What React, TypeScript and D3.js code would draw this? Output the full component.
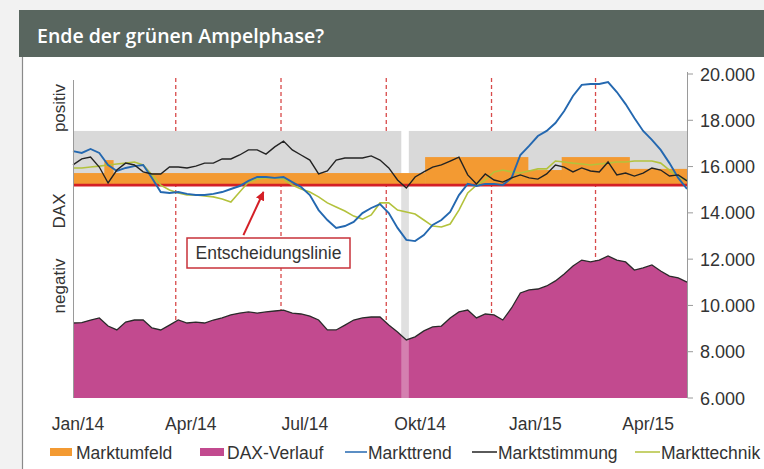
import React from "react";
import * as d3 from "d3";

const W = 764;
const H = 469;

const parse = d3.timeParse("%Y-%m-%d");
const startDate = parse("2013-12-28") as Date;
const endDate = parse("2015-05-02") as Date;
// weekly observations from the start date
const weekDate = (i: number) => new Date(2013, 11, 28 + 7 * i);

// DAX-Verlauf (index points, weekly)
const daxVerlauf = [
  9240, 9260, 9370, 9460, 9110, 8940, 9280, 9370, 9370, 9030,
  8940, 9150, 9370, 9240, 9280, 9240, 9370, 9460, 9590, 9670,
  9720, 9670, 9720, 9760, 9800, 9670, 9630, 9540, 9370, 8940,
  8940, 9150, 9370, 9460, 9500, 9500, 9150, 8850, 8510, 8640,
  8900, 9070, 9110, 9460, 9720, 9800, 9460, 9630, 9590, 9370,
  9890, 10540, 10670, 10710, 10840, 11060, 11360, 11700, 11960, 11880,
  11960, 12140, 11960, 11880, 11530, 11620, 11750, 11490, 11270, 11190,
  11010,
];

// Markttrend (weekly, plotted on the same scale)
const markttrend = [
  16670, 16590, 16760, 16590, 16070, 15810, 15940, 16020, 16070, 15510,
  14900, 14860, 14900, 14820, 14770, 14770, 14820, 14900, 15030, 15160,
  15380, 15550, 15550, 15510, 15550, 15330, 15120, 14770, 14120, 13690,
  13350, 13430, 13610, 13990, 14210, 14380, 13990, 13350, 12830, 12780,
  13040, 13480, 13690, 14040, 14770, 15250, 15160, 15250, 15250, 15200,
  15510, 16500, 16890, 17320, 17540, 17880, 18400, 19050, 19530, 19570,
  19570, 19650, 19220, 18700, 18100, 17540, 17150, 16720, 16150, 15510,
  15030,
];

// Marktstimmung (weekly)
const marktstimmung = [
  16070, 16330, 16410, 15980, 15290, 15850, 16150, 16070, 15770, 15680,
  15680, 15980, 15980, 15940, 16020, 16150, 16150, 16330, 16330, 16500,
  16720, 16720, 16540, 16850, 17100, 16720, 16500, 16280, 15680, 15810,
  16280, 16370, 16370, 16370, 16460, 16280, 15940, 15420, 15070, 15550,
  15770, 15980, 16070, 16240, 16410, 15640, 15250, 15680, 15420, 15330,
  15510, 15640, 15510, 15460, 15680, 16070, 15980, 15770, 15940, 15810,
  15770, 16200, 15640, 15720, 15590, 15720, 15940, 15850, 15590, 15640,
  15380,
];

// Markttechnik (weekly)
const markttechnik = [
  15940, 15940, 15980, 16020, 16070, 16110, 16150, 16200, 16070, 15640,
  15200, 14990, 14860, 14770, 14770, 14730, 14690, 14600, 14470, 14900,
  15330, 15460, 15510, 15510, 15460, 15200, 15030, 14900, 14690, 14430,
  14250, 14080, 13860, 13730, 13910, 14430, 14430, 14120, 14040, 13950,
  13690, 13430, 13390, 13520, 14120, 14860, 15200, 15420, 15770, 15850,
  15770, 15720, 15810, 15900, 15900, 16240, 16200, 16150, 16110, 16070,
  16110, 16150, 16200, 16200, 16240, 16240, 16240, 16150, 15850, 15550,
  15420,
];

// Marktumfeld: step levels starting at these dates
const marktumfeldStart = [
  "2013-12-28", "2014-01-22", "2014-01-29", "2014-10-05",
  "2014-12-26", "2015-01-22", "2015-03-17",
];
const marktumfeldLevel = [15720, 16280, 15720, 16410, 15850, 16410, 15900];

const entscheidungslinie = 15200;
const positivZoneTop = 17540;
// periods with positive zone (grey band) and the negative signal in between
const positivZones = [
  ["2013-12-28", "2014-09-16"],
  ["2014-09-22", "2015-05-02"],
];
const negativZones = [["2014-09-16", "2014-09-22"]];

// red dashed markers
const markerDates = ["2014-03-20", "2014-06-12", "2014-09-04", "2014-11-27", "2015-02-18"];

const xTickDates = ["2014-01-01", "2014-04-01", "2014-07-01", "2014-10-01", "2015-01-01", "2015-04-01"];
const xTickLabels = ["Jan/14", "Apr/14", "Jul/14", "Okt/14", "Jan/15", "Apr/15"];
const yTicks = [6000, 8000, 10000, 12000, 14000, 16000, 18000, 20000];

const arrowFrom = { date: "2014-05-13", value: 13040 };
const arrowTo = { date: "2014-05-29", value: 14900 };

const C = {
  orange: "#f39a32",
  pink: "#c24a8f",
  blue: "#2468b0",
  black: "#232323",
  green: "#b3c23c",
  red: "#d41f26",
  grey: "#d9d9d9",
  text: "#333333",
};

const deLocale = d3.formatLocale({ decimal: ",", thousands: ".", grouping: [3], currency: ["", "€"] });
const fmt = deLocale.format(",d");

export default function App() {
  const x = d3.scaleTime().domain([startDate, endDate]).range([73, 687]);
  const y = d3.scaleLinear().domain([6000, 20000]).range([398, 74]);

  const pts = (arr: number[]) => arr.map((v, i) => ({ d: weekDate(i), v }));

  const area = d3
    .area<{ d: Date; v: number }>()
    .x((p) => x(p.d))
    .y0(y(6000))
    .y1((p) => y(p.v));
  const line = d3
    .line<{ d: Date; v: number }>()
    .x((p) => x(p.d))
    .y((p) => y(p.v));

  const steps = marktumfeldStart.map((s, i) => ({
    from: parse(s) as Date,
    to: i + 1 < marktumfeldStart.length ? (parse(marktumfeldStart[i + 1]) as Date) : endDate,
    level: marktumfeldLevel[i],
  }));

  const font = "'Liberation Sans', Arial, sans-serif";
  const legendY = 452;

  const ax1 = x(parse(arrowFrom.date) as Date);
  const ay1 = y(arrowFrom.value);
  const ax2 = x(parse(arrowTo.date) as Date);
  const ay2 = y(arrowTo.value);

  return (
    <svg
      width={W}
      height={H}
      style={{ position: "absolute", left: 0, top: 0, display: "block" }}
      fontFamily={font}
    >
      <defs>
        <marker id="ah" viewBox="0 0 10 10" refX="9" refY="5" markerWidth="4.5" markerHeight="4.5" orient="auto">
          <path d="M0,0 L10,5 L0,10 z" fill={C.red} />
        </marker>
      </defs>
      <rect x={0} y={0} width={W} height={H} fill="#f2f2f2" />
      <rect x={22} y={57} width={W - 22} height={H - 57} fill="#ffffff" />
      <line x1={22.5} x2={22.5} y1={57} y2={H} stroke="#8a8a8a" strokeWidth={1.2} />
      <rect x={19} y={10} width={W - 19} height={47} fill="#59665f" />
      <text x={37} y={43} fill="#ffffff" fontFamily="'Open Sans', sans-serif" fontWeight={600} fontSize={19.5}>
        Ende der grünen Ampelphase?
      </text>

      {/* dashed markers */}
      {markerDates.map((m) => (
        <line
          key={m}
          x1={x(parse(m) as Date)}
          x2={x(parse(m) as Date)}
          y1={78}
          y2={398}
          stroke="#d84a4a"
          strokeWidth={1.3}
          strokeDasharray="4,3"
        />
      ))}

      {/* positive zone grey band */}
      {positivZones.map(([a, b]) => (
        <rect
          key={a}
          x={x(parse(a) as Date)}
          width={x(parse(b) as Date) - x(parse(a) as Date)}
          y={y(positivZoneTop)}
          height={y(entscheidungslinie) - y(positivZoneTop)}
          fill={C.grey}
        />
      ))}

      {/* negative signal strip (behind DAX) */}
      {negativZones.map(([a, b]) => (
        <rect
          key={a}
          x={x(parse(a) as Date)}
          width={x(parse(b) as Date) - x(parse(a) as Date)}
          y={y(entscheidungslinie)}
          height={y(6000) - y(entscheidungslinie)}
          fill="#d3d3d3"
        />
      ))}

      {/* Marktumfeld */}
      {steps.map((s, i) => (
        <rect
          key={i}
          x={x(s.from)}
          width={x(s.to) - x(s.from) + 0.5}
          y={y(s.level)}
          height={y(entscheidungslinie) - y(s.level)}
          fill={C.orange}
        />
      ))}

      {/* DAX area */}
      <path d={area(pts(daxVerlauf)) || ""} fill={C.pink} />

      {/* negative signal strip lightening the DAX area */}
      {negativZones.map(([a, b]) => (
        <rect
          key={"o" + a}
          x={x(parse(a) as Date)}
          width={x(parse(b) as Date) - x(parse(a) as Date)}
          y={y(entscheidungslinie)}
          height={y(6000) - y(entscheidungslinie)}
          fill="#ffffff"
          fillOpacity={0.3}
        />
      ))}
      <path d={line(pts(daxVerlauf)) || ""} fill="none" stroke="#2a2a2a" strokeWidth={1.3} />

      {/* decision line */}
      <line
        x1={73}
        x2={687}
        y1={y(entscheidungslinie)}
        y2={y(entscheidungslinie)}
        stroke={C.red}
        strokeWidth={2.6}
      />

      {/* indicator lines */}
      <path d={line(pts(markttechnik)) || ""} fill="none" stroke={C.green} strokeWidth={1.6} />
      <path d={line(pts(markttrend)) || ""} fill="none" stroke={C.blue} strokeWidth={1.9} />
      <path d={line(pts(marktstimmung)) || ""} fill="none" stroke={C.black} strokeWidth={1.4} />

      {/* axes */}
      <line x1={73.5} x2={73.5} y1={80} y2={398} stroke="#9a9a9a" strokeWidth={1} />
      <line x1={687.5} x2={687.5} y1={72} y2={398} stroke="#9a9a9a" strokeWidth={1} />
      {yTicks.map((t) => (
        <g key={t}>
          <line x1={687.5} x2={693} y1={y(t)} y2={y(t)} stroke="#9a9a9a" strokeWidth={1} />
          <text x={700} y={y(t) + 6.5} fontSize={18} fill={C.text}>
            {fmt(t)}
          </text>
        </g>
      ))}
      {xTickDates.map((d, i) => (
        <text key={d} x={x(parse(d) as Date)} y={430} fontSize={17.5} fill={C.text} textAnchor="middle">
          {xTickLabels[i]}
        </text>
      ))}

      {/* left labels */}
      {[
        ["positiv", 108],
        ["DAX", 211],
        ["negativ", 286],
      ].map(([t, cy]) => (
        <text
          key={t as string}
          transform={`translate(65,${cy}) rotate(-90)`}
          textAnchor="middle"
          fontSize={17}
          fill={C.text}
        >
          {t}
        </text>
      ))}

      {/* annotation */}
      <line x1={ax1} y1={ay1} x2={ax2} y2={ay2} stroke={C.red} strokeWidth={2} markerEnd="url(#ah)" />
      <rect x={187} y={238} width={163} height={30} fill="#ffffff" stroke="#c8323a" strokeWidth={1.5} />
      <text x={268.5} y={259} textAnchor="middle" fontSize={17.5} fill={C.text}>
        Entscheidungslinie
      </text>

      {/* legend */}
      <rect x={50} y={legendY - 4} width={22} height={8} fill={C.orange} />
      <text x={76} y={legendY + 7} fontSize={17.5} fill={C.text}>Marktumfeld</text>
      <rect x={200} y={legendY - 4} width={24} height={8} fill={C.pink} />
      <text x={227} y={legendY + 7} fontSize={17.5} fill={C.text}>DAX-Verlauf</text>
      <line x1={345} x2={367} y1={legendY} y2={legendY} stroke={C.blue} strokeWidth={1.5} />
      <text x={368} y={legendY + 7} fontSize={17.5} fill={C.text}>Markttrend</text>
      <line x1={472} x2={497} y1={legendY} y2={legendY} stroke={C.black} strokeWidth={1.5} />
      <text x={498} y={legendY + 7} fontSize={17.5} fill={C.text}>Marktstimmung</text>
      <line x1={635} x2={660} y1={legendY} y2={legendY} stroke={C.green} strokeWidth={1.5} />
      <text x={661} y={legendY + 7} fontSize={17.5} fill={C.text}>Markttechnik</text>
    </svg>
  );
}
